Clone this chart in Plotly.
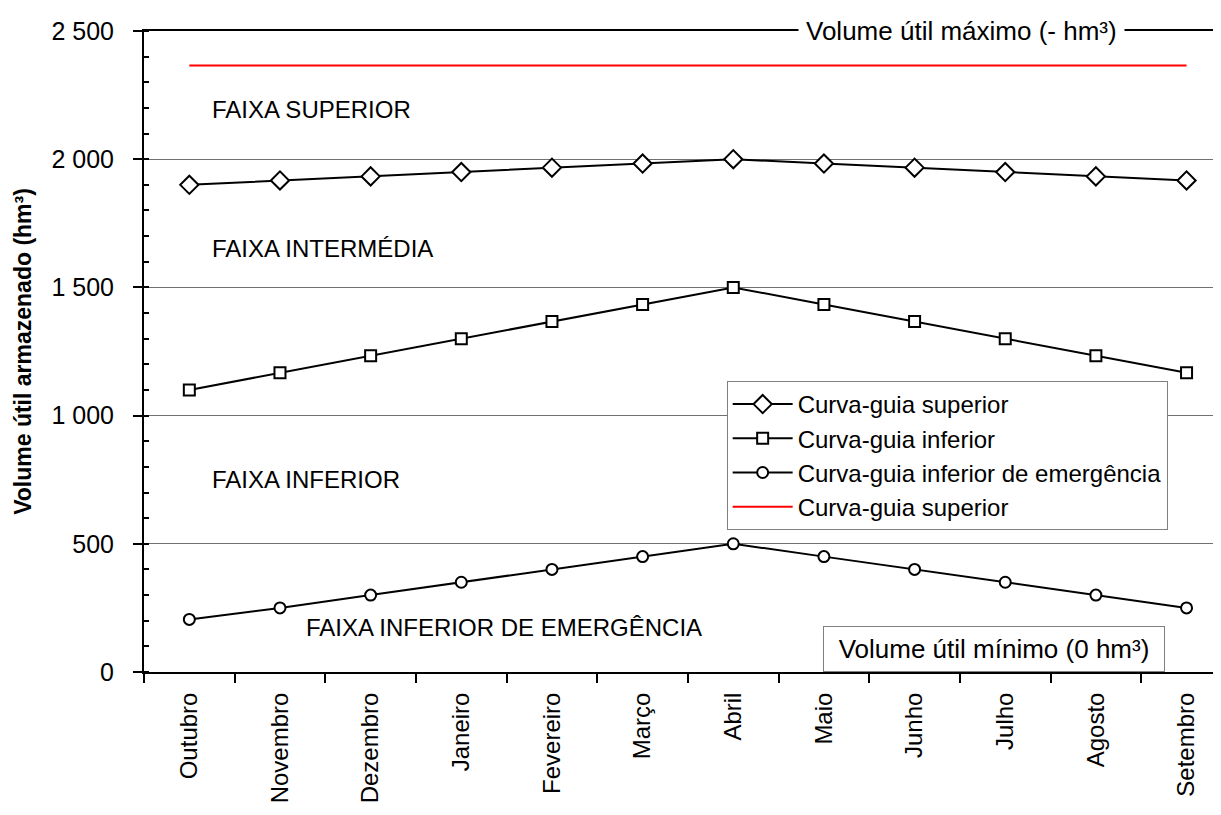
# Curvas-guia do volume útil armazenado ao longo do ano hidrológico
import plotly.graph_objects as go

# ---------------------------------------------------------------------------
# DADOS
# ---------------------------------------------------------------------------
meses = ["Outubro", "Novembro", "Dezembro", "Janeiro", "Fevereiro", "Março",
         "Abril", "Maio", "Junho", "Julho", "Agosto", "Setembro"]

curva_superior = [1900, 1917, 1933, 1950, 1967, 1983, 2000,
                  1983, 1967, 1950, 1933, 1917]
curva_inferior = [1100, 1167, 1233, 1300, 1367, 1433, 1500,
                  1433, 1367, 1300, 1233, 1167]
curva_emergencia = [205, 250, 300, 350, 400, 450, 500,
                    450, 400, 350, 300, 250]
curva_superior_red = [2365] * 12

y_ticks = [0, 500, 1000, 1500, 2000, 2500]
y_tick_labels = ["0", "500", "1 000", "1 500", "2 000", "2 500"]

faixas = ["FAIXA SUPERIOR", "FAIXA INTERMÉDIA", "FAIXA INFERIOR",
          "FAIXA INFERIOR DE EMERGÊNCIA"]
faixas_y = [2192, 1650, 749, 172]

# ---------------------------------------------------------------------------
# VISUALIZAÇÃO
# ---------------------------------------------------------------------------
FONT = "Liberation Sans, Arial, sans-serif"
marker_line = dict(color="black", width=2)

fig = go.Figure()

fig.add_trace(go.Scatter(
    x=meses, y=curva_superior, name="Curva-guia superior",
    mode="lines+markers", line=dict(color="black", width=2),
    marker=dict(symbol="diamond", size=14, color="white", line=marker_line)
))
fig.add_trace(go.Scatter(
    x=meses, y=curva_inferior, name="Curva-guia inferior",
    mode="lines+markers", line=dict(color="black", width=2),
    marker=dict(symbol="square", size=11, color="white", line=marker_line)
))
fig.add_trace(go.Scatter(
    x=meses, y=curva_emergencia, name="Curva-guia inferior de emergência",
    mode="lines+markers", line=dict(color="black", width=2),
    marker=dict(symbol="circle", size=11, color="white", line=marker_line)
))
fig.add_trace(go.Scatter(
    x=meses, y=curva_superior_red, name="Curva-guia superior",
    mode="lines", line=dict(color="#ff0000", width=2)
))

# texto das faixas
faixa_x = [0.061, 0.061, 0.061, 0.149]
for txt, xv, yv in zip(faixas, faixa_x, faixas_y):
    fig.add_annotation(x=xv, y=yv, xref="paper", yref="y", text=txt,
                       showarrow=False, xanchor="left", yanchor="middle",
                       font=dict(family=FONT, size=24, color="black"))

fig.add_annotation(x=0.7595, y=2500, xref="paper", yref="y",
                   text="Volume útil máximo (- hm³)", showarrow=False,
                   xanchor="center", yanchor="middle", bgcolor="white",
                   borderpad=7, font=dict(family=FONT, size=26, color="black"))

fig.add_annotation(x=0.789, y=0, xref="paper", yref="y",
                   text="Volume útil mínimo (0 hm³)", showarrow=False,
                   xanchor="center", yanchor="bottom", bgcolor="white",
                   bordercolor="#808080", borderwidth=1, borderpad=2,
                   width=336, height=40,
                   font=dict(family=FONT, size=26, color="black"))

# a página tem 8 px de margem no body: figura 1213x807
fig.update_layout(
    width=1213, height=807,
    margin=dict(l=136, r=0, t=23, b=143),
    plot_bgcolor="white", paper_bgcolor="white",
    font=dict(family=FONT, size=24, color="black"),
    showlegend=True,
    legend=dict(x=0.541, y=0.454, xanchor="left", yanchor="top",
                bgcolor="white", bordercolor="#808080", borderwidth=1,
                itemwidth=60, tracegroupgap=0,
                font=dict(family=FONT, size=24, color="black")),
    xaxis=dict(
        type="category", range=[-0.5, 11.38], automargin=False,
        showline=True, linecolor="black", linewidth=2, mirror=True,
        ticks="outside", tickson="boundaries", ticklen=9, tickwidth=1.5,
        tickcolor="black", tickangle=-90, showgrid=False,
        ticklabelstandoff=9,
        tickfont=dict(family=FONT, size=24, color="black"),
    ),
    yaxis=dict(
        range=[0, 2500], tickvals=y_ticks, ticktext=y_tick_labels,
        automargin=False,
        showline=True, linecolor="black", linewidth=2,
        ticks="outside", ticklen=9, tickwidth=1.5, tickcolor="black",
        minor=dict(dtick=100, ticks="inside", ticklen=5, tickcolor="black",
                   tickwidth=1.5, showgrid=False),
        showgrid=True, gridcolor="#707070", gridwidth=1, zeroline=False,
        ticklabelstandoff=14,
        tickfont=dict(family=FONT, size=25, color="black"),
        title=dict(text="<b>Volume útil armazenado (hm³)</b>", standoff=13,
                   font=dict(family=FONT, size=23, color="black")),
    ),
)

fig.write_html("out.html")
